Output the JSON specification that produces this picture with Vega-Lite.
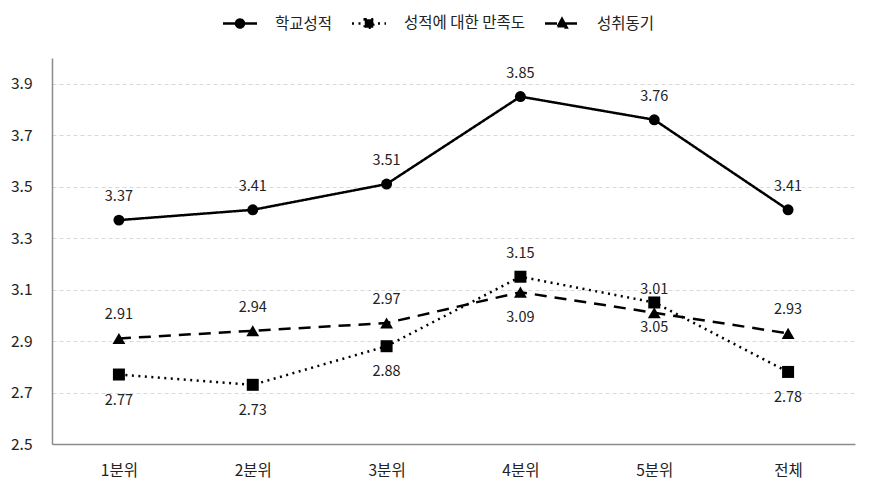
{
  "$schema": "https://vega.github.io/schema/vega-lite/v6.json",
  "width": 803,
  "height": 386,
  "autosize": {"type": "none"},
  "padding": {"left": 52, "top": 58, "right": 16, "bottom": 50},
  "background": "white",
  "config": {
    "view": {"stroke": null},
    "font": "Noto Sans CJK KR",
    "legend": {
      "title": null,
      "orient": "none",
      "direction": "horizontal",
      "legendX": 170,
      "legendY": -45,
      "symbolSize": 289,
      "symbolStrokeWidth": 2.5,
      "symbolFillColor": "black",
      "symbolStrokeColor": "black",
      "symbolOffset": 8,
      "labelOffset": 25,
      "columnPadding": 14,
      "labelFontSize": 15.5,
      "labelColor": "#222222"
    }
  },
  "data": {
    "values": [
      {"group": "1분위", "series": "학교성적", "value": 3.37},
      {"group": "2분위", "series": "학교성적", "value": 3.41},
      {"group": "3분위", "series": "학교성적", "value": 3.51},
      {"group": "4분위", "series": "학교성적", "value": 3.85},
      {"group": "5분위", "series": "학교성적", "value": 3.76},
      {"group": "전체", "series": "학교성적", "value": 3.41},
      {"group": "1분위", "series": "성적에 대한 만족도", "value": 2.77},
      {"group": "2분위", "series": "성적에 대한 만족도", "value": 2.73},
      {"group": "3분위", "series": "성적에 대한 만족도", "value": 2.88},
      {"group": "4분위", "series": "성적에 대한 만족도", "value": 3.15},
      {"group": "5분위", "series": "성적에 대한 만족도", "value": 3.05},
      {"group": "전체", "series": "성적에 대한 만족도", "value": 2.78},
      {"group": "1분위", "series": "성취동기", "value": 2.91},
      {"group": "2분위", "series": "성취동기", "value": 2.94},
      {"group": "3분위", "series": "성취동기", "value": 2.97},
      {"group": "4분위", "series": "성취동기", "value": 3.09},
      {"group": "5분위", "series": "성취동기", "value": 3.01},
      {"group": "전체", "series": "성취동기", "value": 2.93}
    ]
  },
  "encoding": {
    "x": {
      "field": "group",
      "type": "ordinal",
      "sort": ["1분위", "2분위", "3분위", "4분위", "5분위", "전체"],
      "scale": {"type": "point", "padding": 0.5},
      "axis": {
        "title": null,
        "labelAngle": 0,
        "ticks": false,
        "grid": false,
        "labelPadding": 19,
        "labelFontSize": 15.5,
        "labelColor": "#222222",
        "domainColor": "#8c8c8c",
        "domainWidth": 1.5
      }
    },
    "y": {
      "field": "value",
      "type": "quantitative",
      "scale": {"domain": [2.5, 4.0], "nice": false, "zero": false},
      "axis": {
        "title": null,
        "values": [2.5, 2.7, 2.9, 3.1, 3.3, 3.5, 3.7, 3.9],
        "format": ".1f",
        "ticks": false,
        "labelPadding": 20,
        "labelFontSize": 15.5,
        "labelColor": "#222222",
        "domainColor": "#8c8c8c",
        "domainWidth": 1.5,
        "grid": true,
        "gridColor": "#d9d9d9",
        "gridDash": [4, 3],
        "gridWidth": 1
      }
    }
  },
  "layer": [
    {
      "mark": {"type": "line", "color": "black", "strokeWidth": 2.5},
      "encoding": {
        "strokeDash": {
          "field": "series",
          "type": "nominal",
          "scale": {
            "domain": ["학교성적", "성적에 대한 만족도", "성취동기"],
            "range": [[1, 0], [2, 4.5], [12, 8]]
          }
        }
      }
    },
    {
      "transform": [{"filter": "false"}],
      "mark": {"type": "point", "filled": true, "strokeWidth": 2.5, "opacity": 1},
      "encoding": {
        "shape": {
          "field": "series",
          "type": "nominal",
          "scale": {
            "domain": ["학교성적", "성적에 대한 만족도", "성취동기"],
            "range": [
              "M-2,0H2M-0.47,0A0.47,0.47 0 1 1 0.47,0A0.47,0.47 0 1 1 -0.47,0Z",
              "M-2,0H2M-0.5,-0.5H0.5V0.5H-0.5Z",
              "M-2,0H2M0,-0.55L0.55,0.45H-0.55Z"
            ]
          }
        },
        "stroke": {
          "field": "series",
          "type": "nominal",
          "scale": {
            "domain": ["학교성적", "성적에 대한 만족도", "성취동기"],
            "range": ["#000000", "#000000", "#000000"]
          }
        },
        "fill": {
          "field": "series",
          "type": "nominal",
          "scale": {
            "domain": ["학교성적", "성적에 대한 만족도", "성취동기"],
            "range": ["#000000", "#000000", "#000000"]
          }
        },
        "strokeDash": {"field": "series", "type": "nominal"}
      }
    },
    {
      "transform": [{"filter": "datum.series === '학교성적'"}],
      "mark": {"type": "point", "shape": "circle", "filled": true, "color": "black", "size": 120, "opacity": 1}
    },
    {
      "transform": [{"filter": "datum.series === '성적에 대한 만족도'"}],
      "mark": {"type": "point", "shape": "square", "filled": true, "color": "black", "size": 144, "opacity": 1}
    },
    {
      "transform": [{"filter": "datum.series === '성취동기'"}],
      "mark": {"type": "point", "shape": "triangle-up", "filled": true, "color": "black", "size": 165, "opacity": 1}
    },
    {
      "transform": [{"filter": "datum.series === '학교성적' || (datum.series === '성취동기' && datum.group !== '4분위') || (datum.series === '성적에 대한 만족도' && datum.group === '4분위')"}],
      "mark": {"type": "text", "dy": -23, "fontSize": 14.5, "color": "#222222"},
      "encoding": {"text": {"field": "value", "type": "quantitative", "format": ".2f"}}
    },
    {
      "transform": [{"filter": "!(datum.series === '학교성적' || (datum.series === '성취동기' && datum.group !== '4분위') || (datum.series === '성적에 대한 만족도' && datum.group === '4분위'))"}],
      "mark": {"type": "text", "dy": 26, "fontSize": 14.5, "color": "#222222"},
      "encoding": {"text": {"field": "value", "type": "quantitative", "format": ".2f"}}
    }
  ]
}
